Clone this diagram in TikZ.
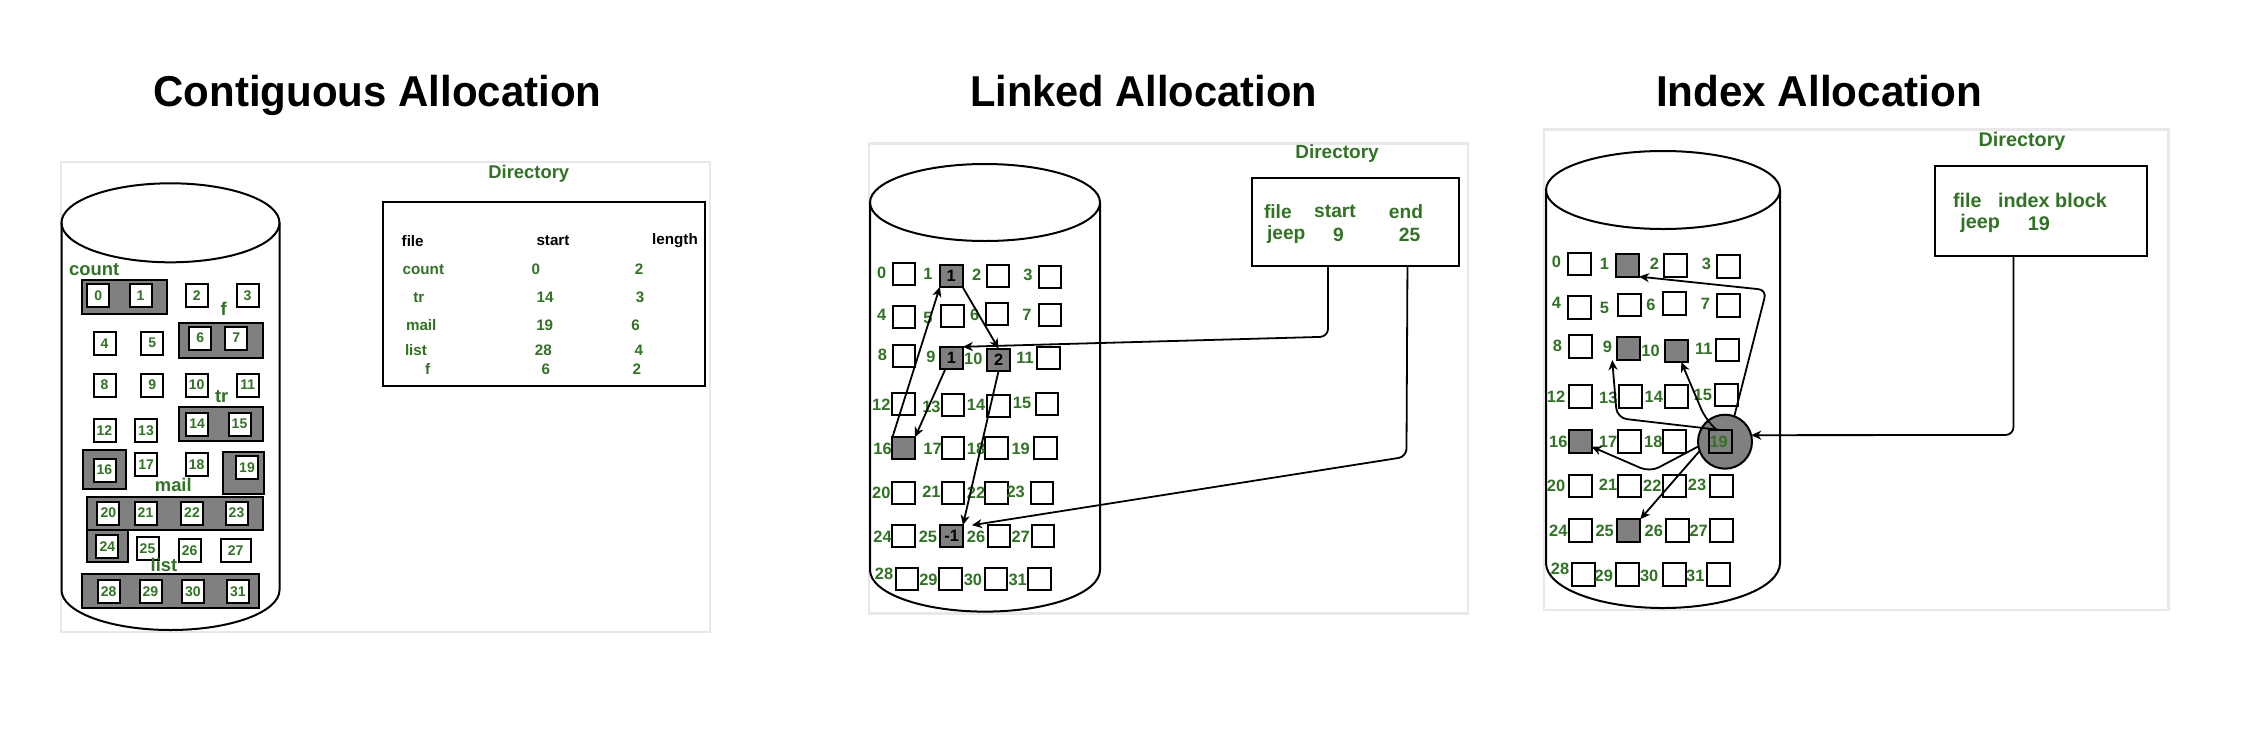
\documentclass[tikz,border=0pt]{standalone}
\usepackage{fontspec}
\usepackage{graphicx}
\setmainfont{Liberation Sans}
\usetikzlibrary{arrows.meta}
\definecolor{dg}{RGB}{47,115,35}
\definecolor{boxgray}{RGB}{128,128,128}
\definecolor{panelline}{RGB}{232,232,232}
\begin{document}
\begin{tikzpicture}[x=0.5pt,y=-0.5pt,
  every node/.style={inner sep=0pt, outer sep=0pt},
  panel/.style={draw=panelline, line width=1.2pt, fill=white},
  cyl/.style={draw=black, line width=1pt},
  ttl/.style={font=\bfseries\fontsize{21.6}{24}\selectfont, anchor=base},
  lab/.style={text=dg, font=\bfseries\fontsize{8.2}{9}\selectfont},
  big/.style={text=dg, font=\bfseries\fontsize{9.2}{10}\selectfont},
  dirtitle/.style={text=dg, font=\bfseries\fontsize{9.5}{10}\selectfont},
  tab/.style={text=dg, font=\bfseries\fontsize{7.6}{8}\selectfont},
  tabh/.style={text=black, font=\bfseries\fontsize{7.6}{8}\selectfont},
  dtxt/.style={text=dg, font=\bfseries\fontsize{9.6}{10}\selectfont},
  grp/.style={draw=black, line width=1pt, fill=boxgray},
  cone/.style={draw=black, line width=1pt, fill=white, minimum width=11pt, minimum height=11.5pt, text=dg, font=\bfseries\fontsize{7}{8}\selectfont},
  ctwo/.style={draw=black, line width=1pt, fill=white, minimum width=11.3pt, minimum height=11pt, font=\bfseries\fontsize{8.2}{9}\selectfont},
  ctwog/.style={ctwo, fill=boxgray},
  cthree/.style={draw=black, line width=1pt, fill=white, minimum width=11.5pt, minimum height=11.3pt},
  cthreeg/.style={cthree, fill=boxgray},
  dirbox/.style={draw=black, line width=1pt, fill=white},
  arr/.style={draw=black, line width=0.9pt, -{Stealth[length=5pt,width=4.5pt,inset=1.5pt]}}
]
\useasboundingbox (0,0) rectangle (2258,729);
\fill[white] (0,0) rectangle (2258,729);

% ---------- titles ----------
\node[ttl] (t1) at (377.5,106) {\resizebox{224pt}{\height}{Contiguous Allocation}};
\node[ttl] (t2) at (1143.5,106) {\resizebox{173.5pt}{\height}{Linked Allocation}};
\node[ttl] (t3) at (1819,106) {\resizebox{163pt}{\height}{Index Allocation}};

% ---------- panels ----------
\draw[panel] (60.7,161.7) rectangle (710,631.7);
\draw[panel] (868.7,143.3) rectangle (1468,613.3);
\draw[panel] (1544,129.3) rectangle (2168.6,610);

% ================= Contiguous =================
\draw[cyl] (170.5,222.8) ellipse [x radius=54.5pt, y radius=19.75pt];
\draw[cyl] (61.5,222.8) -- (61.5,590) arc[start angle=180, end angle=360, x radius=54.5pt, y radius=20pt] -- (279.5,222.8);

\draw[grp] (82.3,280) rectangle (166.7,314);
\draw[grp] (178.7,322.7) rectangle (262.7,357.7);
\draw[grp] (178.7,406.7) rectangle (262.7,441.3);
\draw[grp] (83.3,450) rectangle (126,489.3);
\draw[grp] (223.3,451.7) rectangle (264.3,494);
\draw[grp] (86.7,496.7) rectangle (263.3,530);
\draw[grp] (86.7,530) rectangle (128.3,562.3);
\draw[grp] (82.3,574.3) rectangle (259.3,607.7);

\foreach \n/\x/\y in {0/98.3/295.8, 1/140.5/295.8, 2/196.7/295.3, 3/247.5/295.3,
  4/104.5/343.2, 5/152.2/343.2, 6/200.3/338, 7/236.2/338,
  8/104.5/385, 9/152.2/385, 10/196.7/385, 11/247.7/385,
  12/104.5/430.2, 13/146/430.2, 14/197.2/424, 15/239.5/424,
  16/104.5/470, 17/146.2/464.5, 18/196.7/464.5, 19/247/467.8,
  20/108.3/513, 21/145.5/513, 22/192/513, 23/236.5/513,
  24/107.3/546.7, 25/147.5/548.7, 26/189.7/550.3,
  28/108.7/591.3, 29/150.5/591.3, 30/192.8/591.3, 31/237.8/591.3}
  \node[cone] (C\n) at (\x,\y) {\n};
\node[cone, minimum width=15pt] (C27) at (235.7,550.3) {27};

\node[big] (lcount) at (94.2,270) {count};
\node[big] (lf) at (223.8,308.8) {f};
\node[big] (ltr) at (221.7,396.7) {tr};
\node[big] (lmail) at (173.3,485) {mail};
\node[big] (llist) at (164,565) {list};

\node[dirtitle, font=\bfseries\fontsize{9.2}{10}\selectfont] (CDt) at (528.8,174) {Directory};
\node[dirbox, minimum width=161.15pt, minimum height=92.15pt] (CD) at (543.85,293.85) {};
\node[tabh, anchor=west] (h1) at (401.7,240.7) {file};
\node[tabh] (h2) at (553,240.7) {start};
\node[tabh] (h3) at (675,240.7) {length};
\node[tab, anchor=west] (r1a) at (402.7,269.3) {count};
\node[tab] (r1b) at (535.8,269.3) {0};
\node[tab] (r1c) at (639.2,269.3) {2};
\node[tab, anchor=west] (r2a) at (413.3,297.7) {tr};
\node[tab] (r2b) at (545,297.7) {14};
\node[tab] (r2c) at (640,297.7) {3};
\node[tab, anchor=west] (r3a) at (406,325) {mail};
\node[tab] (r3b) at (544.7,325) {19};
\node[tab] (r3c) at (635.5,325) {6};
\node[tab, anchor=west] (r4a) at (405,350) {list};
\node[tab] (r4b) at (543.3,350) {28};
\node[tab] (r4c) at (638.8,350) {4};
\node[tab, anchor=west] (r5a) at (425,369.3) {f};
\node[tab] (r5b) at (545.8,369.3) {6};
\node[tab] (r5c) at (636.8,369.3) {2};

% ================= Linked =================
\draw[cyl] (985,202.5) ellipse [x radius=57.5pt, y radius=19.25pt];
\draw[cyl] (870,202.5) -- (870,570) arc[start angle=180, end angle=360, x radius=57.5pt, y radius=20.8pt] -- (1100,202.5);

\foreach \n/\x/\y in {0/903.9/273.8, 2/997.8/275.8, 3/1049.8/277.2,
  4/903.9/317.2, 5/952.5/315.8, 6/997/314.2, 7/1049.8/315.3,
  8/903.9/355.8, 11/1048.3/358,
  12/903.7/404.2, 13/952.9/405, 14/998.4/405.8, 15/1047.1/403.5,
  17/952.9/448.3, 18/996.3/448.3, 19/1045.2/448.3,
  20/903.7/492.5, 21/952.9/492.5, 22/996.3/492.5, 23/1042.1/492.5,
  24/903.7/536.2, 26/998.8/536.2, 27/1043/536.2,
  28/907/579.2, 29/950.5/579.2, 30/996/579.2, 31/1039.5/579.2}
  \node[ctwo] (L\n) at (\x,\y) {};
\node[ctwog] (L1) at (951.2,275.8) {1};
\node[ctwog] (L9) at (951.5,357.8) {1};
\node[ctwog] (L10) at (998.6,359.7) {2};
\node[ctwog] (L16) at (903.7,448.3) {};
\node[ctwog] (L25) at (951.6,536.2) {-1};

\foreach \n/\x/\y in {0/881.7/272.7, 1/928/274, 2/976.6/275, 3/1028/275,
  4/881.7/315, 5/928/318, 6/974.7/315, 7/1027/315,
  8/882.5/355, 9/931/356.7, 10/973.3/359.3, 11/1025/358.3,
  12/881.3/405, 13/931.4/406.7, 14/976/405, 15/1022/403.3,
  16/882.5/449, 17/932.5/449, 18/976/449, 19/1020.7/449,
  20/881.3/492.5, 21/931.4/492, 22/976/493, 23/1015.7/492,
  24/882.5/536.7, 25/927.9/536.7, 26/976/536.7, 27/1020.7/536.7,
  28/884/574, 29/928.4/580, 30/972.9/580, 31/1017.7/580}
  \node[lab] (Ll\n) at (\x,\y) {\n};

\node[dirtitle] (LDt) at (1337,154) {Directory};
\node[dirbox, minimum width=103.75pt, minimum height=43.85pt] (LD) at (1355.25,222.15) {};
\node[dtxt, anchor=west] (LDa) at (1264,211.7) {file};
\node[dtxt] (LDb) at (1335,211.7) {start};
\node[dtxt] (LDc) at (1406,211.7) {end};
\node[dtxt, anchor=west] (LDd) at (1267,235) {jeep};
\node[dtxt] (LDe) at (1338.5,235) {9};
\node[dtxt] (LDf) at (1409.6,235) {25};

\draw[arr] (L16.north west) -- (L1.south west);
\draw[arr] (L1.south east) -- (L10.north);
\draw[arr] ([xshift=-3pt]L9.south) -- (L16.north east);
\draw[arr] (L10.south) -- (L25.north east);
\draw[arr, rounded corners=4pt] ([xshift=-13.6pt]LD.south) -- ++(0,70.7) -- (L9.north east);
\draw[arr, rounded corners=4pt] ([xshift=26.1pt]LD.south) -- ++(-1,190.7) -- ([xshift=4.5pt]L25.north east);

% ================= Index =================
\draw[cyl] (1663,190) ellipse [x radius=58.5pt, y radius=19.5pt];
\draw[cyl] (1546,190) -- (1546,563) arc[start angle=180, end angle=360, x radius=58.5pt, y radius=22.5pt] -- (1780,190);

\foreach \n/\x/\y in {0/1579.8/263.8, 2/1675.2/265.3, 3/1728.8/266.7,
  4/1579.8/307.2, 5/1629.3/305, 6/1674.2/303.5, 7/1728.8/305.5,
  8/1580/346.7, 11/1727.7/350,
  12/1580/396.7, 13/1630/396.7, 14/1676.3/396.7, 15/1726.7/395,
  17/1629.7/441.3, 18/1674.2/441.3,
  20/1580/486, 21/1629.7/486, 22/1674.2/486, 23/1721/486,
  24/1580/530.5, 26/1677.5/530.5, 27/1721.7/530.5,
  28/1583/574.7, 29/1627.5/574.7, 30/1674.2/574.7, 31/1718.3/574.7}
  \node[cthree] (I\n) at (\x,\y) {};
\node[cthreeg] (I1) at (1627.5,265.3) {};
\node[cthreeg] (I9) at (1628.7,348.7) {};
\node[cthreeg] (I10) at (1676.3,350.8) {};
\node[cthreeg] (I16) at (1580,441.3) {};
\node[cthreeg] (I25) at (1628.7,530.5) {};

\node[circle, draw=black, line width=1pt, fill=boxgray, minimum size=27pt] (circ) at (1725,441.7) {};
\node[cthree, fill=none] (I19) at (1720.5,441.3) {};

\foreach \n/\x/\y in {0/1556.3/261.7, 1/1604.5/264, 2/1654.3/264, 3/1706.5/264,
  4/1556.3/303, 5/1604.5/308, 6/1651/305, 7/1705.3/304,
  8/1557.3/346, 9/1607.3/346.7, 10/1650.5/350.7, 11/1703.8/349.3,
  12/1556/397, 13/1608.3/398.3, 14/1653.8/396.7, 15/1702.8/395,
  16/1558.3/442, 17/1608/442, 18/1653.3/442, 19/1718.7/442,
  20/1556/486, 21/1608/485, 22/1652.3/486, 23/1697/485,
  24/1558.3/531, 25/1604.7/531, 26/1653.8/531, 27/1698.7/531,
  28/1560/569.3, 29/1603.8/576, 30/1649.2/576, 31/1695.3/576}
  \node[lab] (Il\n) at (\x,\y) {\n};

\node[dirtitle, font=\bfseries\fontsize{9.9}{11}\selectfont] (IDt) at (2022,141) {Directory};
\node[dirbox, minimum width=106pt, minimum height=44.85pt] (ID) at (2041,210.85) {};
\node[dtxt, font=\bfseries\fontsize{9.9}{11}\selectfont, anchor=west] (IDa) at (1953,200) {file};
\node[dtxt, font=\bfseries\fontsize{9.9}{11}\selectfont, anchor=west] (IDb) at (1998,200) {index block};
\node[dtxt, font=\bfseries\fontsize{9.9}{11}\selectfont, anchor=west] (IDc) at (1960.4,223.3) {jeep};
\node[dtxt, font=\bfseries\fontsize{9.9}{11}\selectfont] (IDd) at (2038.8,223.3) {19};

\draw[arr, rounded corners=4pt] (circ.70) -- (1766.5,290) -- (I1.south east);
\draw[arr, rounded corners=5pt] (I19.north) -- (1617,418) -- ([xshift=-2.5pt]I9.south west);
\draw[arr, rounded corners=5pt] ([xshift=-2pt]I19.north) -- (1705,418) -- ([xshift=2.5pt]I10.south);
\draw[arr, rounded corners=5pt] (circ.190) -- (1650,472) -- (I16.-25);
\draw[arr] (circ.200) -- (I25.north east);
\draw[arr, rounded corners=4pt] ([xshift=-13.75pt]ID.south) -- ++(0,179.3) -- (circ.14);
\end{tikzpicture}
\end{document}
